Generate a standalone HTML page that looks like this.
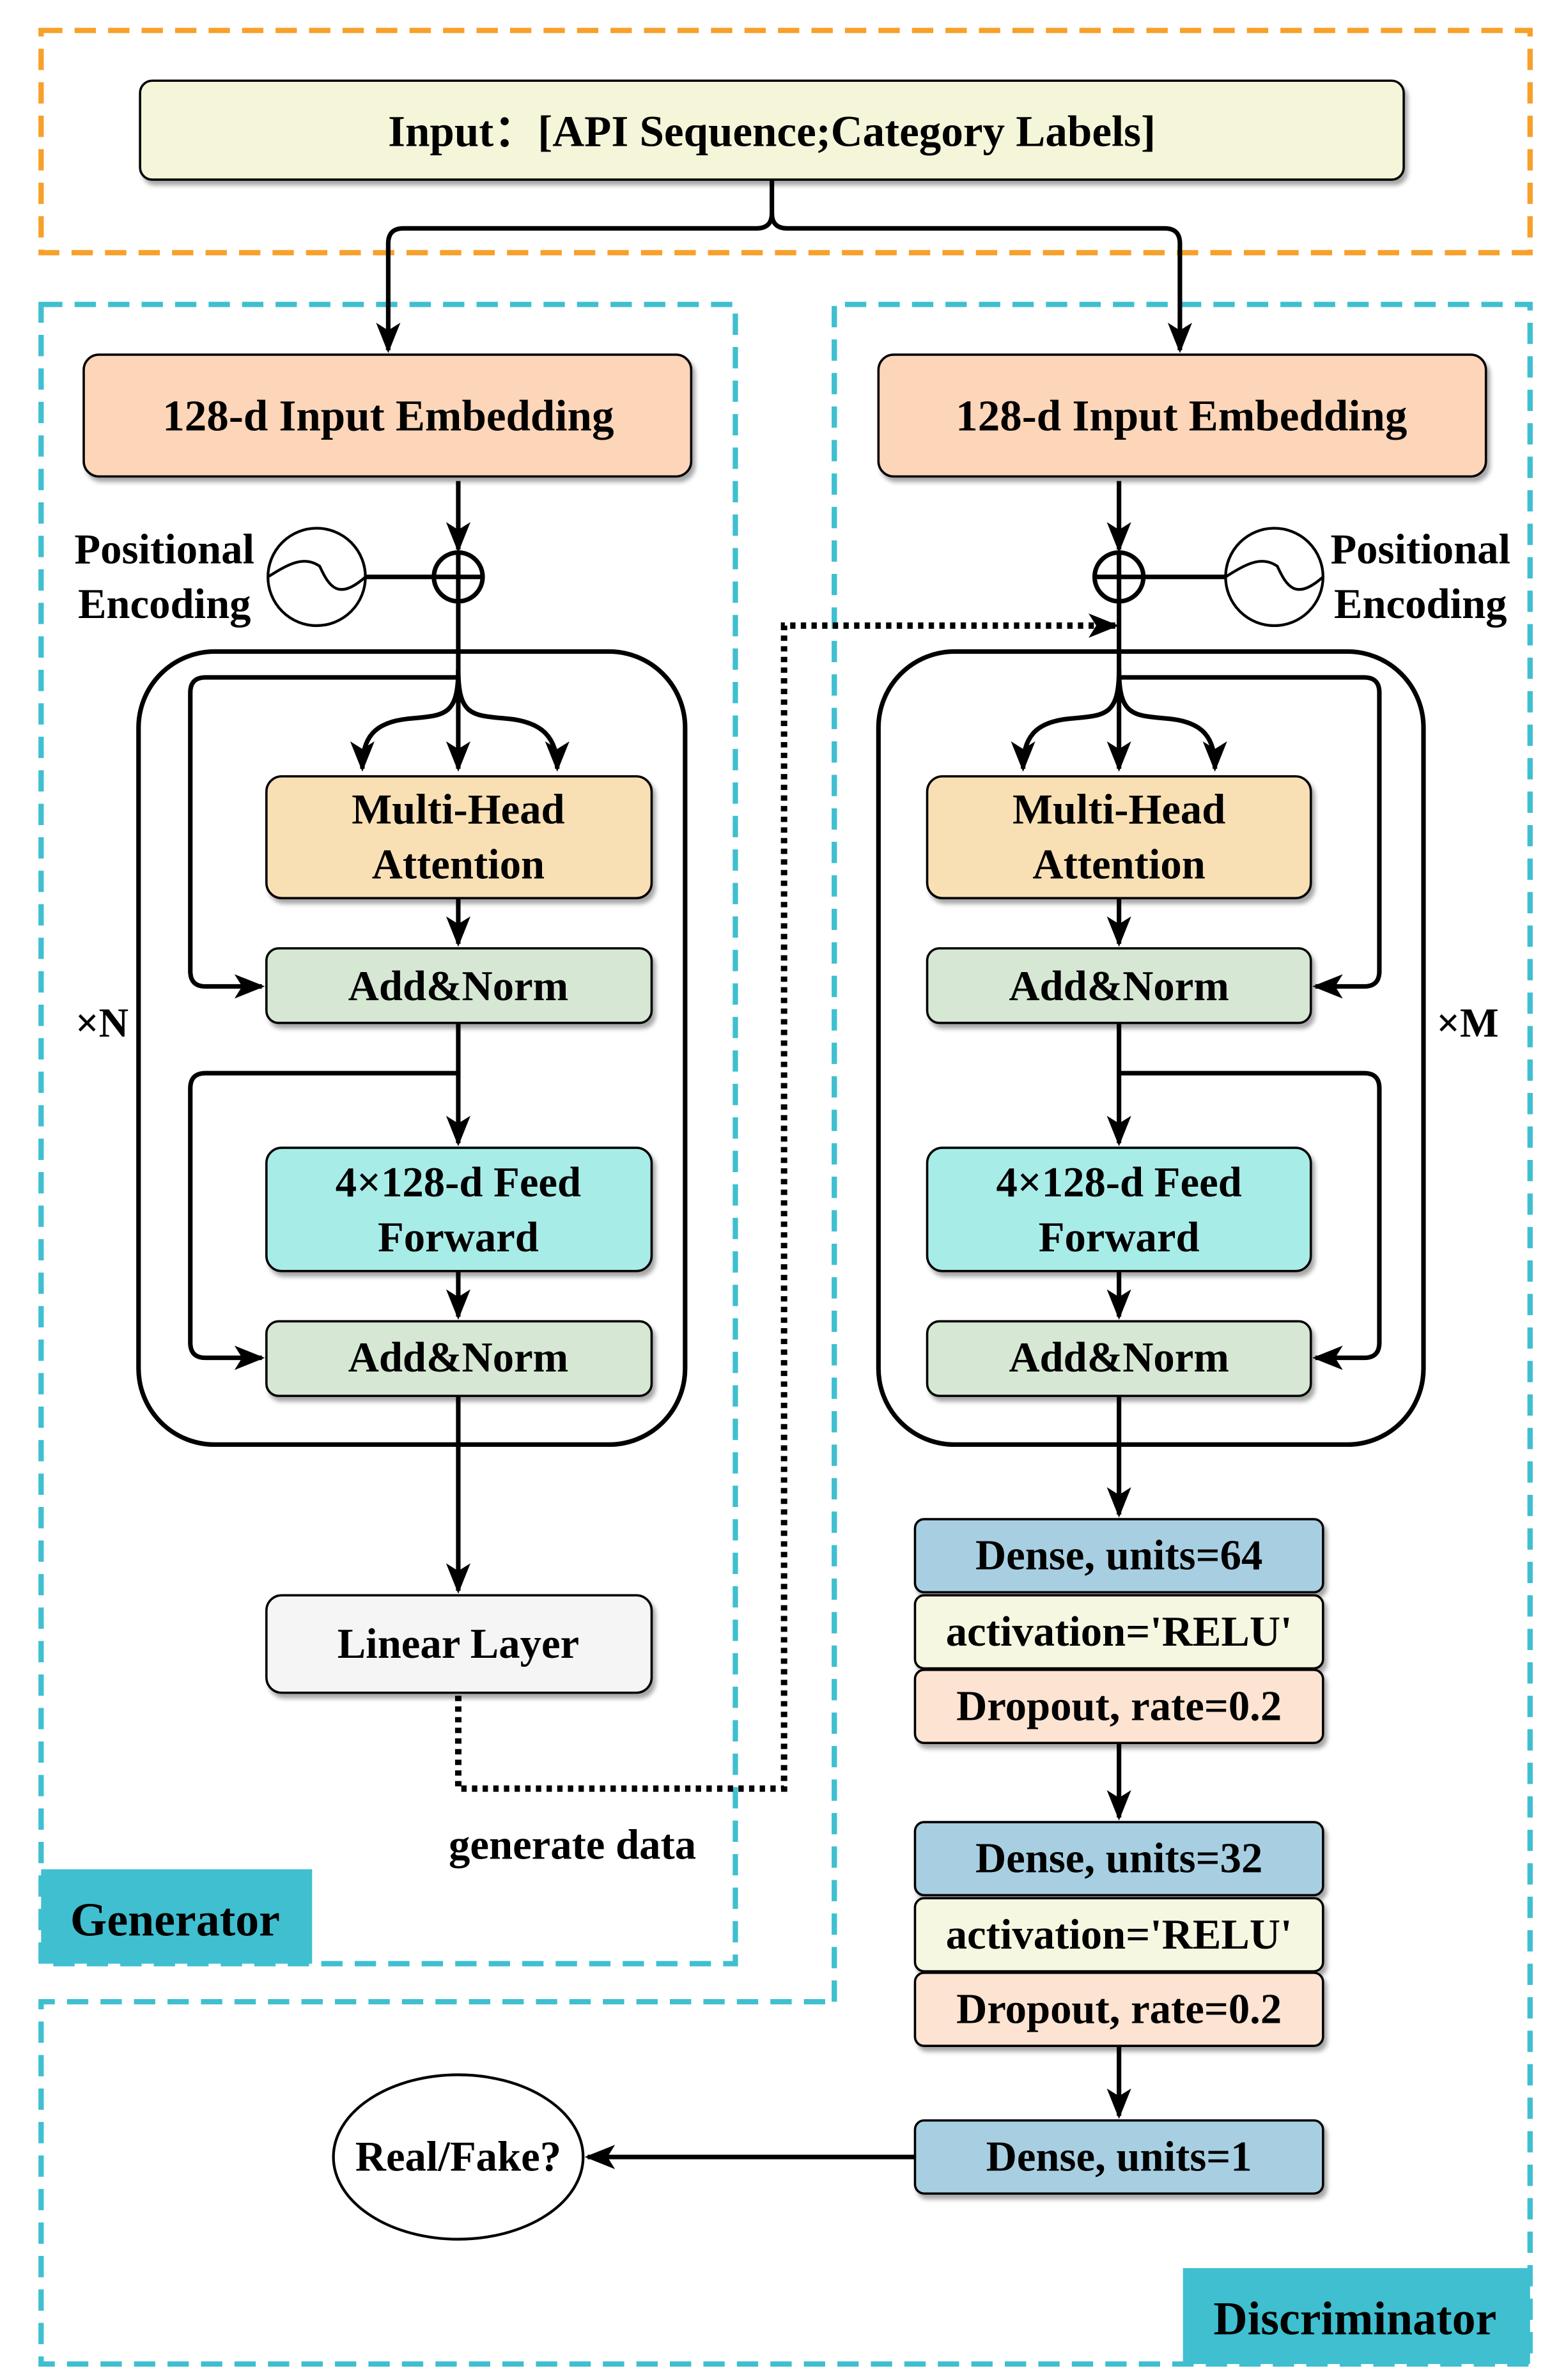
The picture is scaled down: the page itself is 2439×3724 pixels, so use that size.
<!DOCTYPE html>
<html><head><meta charset="utf-8"><style>
html,body{margin:0;padding:0;background:#fff;}
svg{display:block;}
text{font-family:"Liberation Serif",serif;font-weight:bold;fill:#000;text-anchor:middle;dominant-baseline:central;}
</style></head><body>
<svg width="2439" height="3724" viewBox="0 0 1024 1563.5" xmlns="http://www.w3.org/2000/svg">
<defs>
<marker id="b" viewBox="0 0 20 20" refX="18" refY="10" markerWidth="20" markerHeight="20" markerUnits="userSpaceOnUse" orient="auto">
<path d="M0,2 L20,10 L0,18 L5,10 Z" fill="#000"/></marker>
<filter id="s" x="-5%" y="-5%" width="115%" height="130%"><feDropShadow dx="2" dy="3" stdDeviation="1.5" flood-color="#000" flood-opacity="0.35"/></filter>
</defs>
<g fill="none" stroke-width="3.5" stroke-dasharray="14 8">
<rect x="27" y="20" width="978" height="146" stroke="#f7a02a"/>
<rect x="27" y="200" width="456" height="1090" stroke="#3fbfd0"/>
<path d="M548,1315 L548,200 L1005,200 L1005,1553 L27,1553 L27,1315 Z" stroke="#3fbfd0"/>
</g>
<rect x="27" y="1228" width="178" height="62" fill="#3fbfd0"/>
<text x="115" y="1261" font-size="31">Generator</text>
<rect x="777" y="1490" width="228" height="63" fill="#3fbfd0"/>
<text x="890" y="1523" font-size="31">Discriminator</text>

<g stroke="#000" stroke-width="1.5" filter="url(#s)">
<rect x="92" y="53" width="830" height="65" rx="8" fill="#f4f5d9"/>
<rect x="55" y="233" width="399" height="80" rx="10" fill="#fdd5b8"/>
<rect x="577" y="233" width="399" height="80" rx="10" fill="#fdd5b8"/>
<rect x="175" y="510" width="253" height="80" rx="10" fill="#f9e0b4"/>
<rect x="175" y="623" width="253" height="49" rx="8" fill="#d6e8d4"/>
<rect x="175" y="754" width="253" height="81" rx="10" fill="#a8ece8"/>
<rect x="175" y="868" width="253" height="49" rx="8" fill="#d6e8d4"/>
<rect x="175" y="1048" width="253" height="64" rx="10" fill="#f5f5f5"/>
<rect x="609" y="510" width="252" height="80" rx="10" fill="#f9e0b4"/>
<rect x="609" y="623" width="252" height="49" rx="8" fill="#d6e8d4"/>
<rect x="609" y="754" width="252" height="81" rx="10" fill="#a8ece8"/>
<rect x="609" y="868" width="252" height="49" rx="8" fill="#d6e8d4"/>
<rect x="601" y="998" width="268" height="48" rx="6" fill="#a7cfe1"/>
<rect x="601" y="1048" width="268" height="48" rx="6" fill="#f6f7e1"/>
<rect x="601" y="1097" width="268" height="48" rx="6" fill="#fde3d1"/>
<rect x="601" y="1197" width="268" height="48" rx="6" fill="#a7cfe1"/>
<rect x="601" y="1247" width="268" height="48" rx="6" fill="#f6f7e1"/>
<rect x="601" y="1296" width="268" height="48" rx="6" fill="#fde3d1"/>
<rect x="601" y="1393" width="268" height="48" rx="6" fill="#a7cfe1"/>
</g>

<g fill="none" stroke="#000" stroke-width="3">
<rect x="91" y="428" width="359" height="521" rx="50"/>
<rect x="577" y="428" width="358" height="521" rx="50"/>
<path d="M507,118 L507,140 Q507,150 497,150 L265,150 Q255,150 255,160 L255,230" marker-end="url(#b)"/>
<path d="M507,140 Q507,150 517,150 L765,150 Q775,150 775,160 L775,230" marker-end="url(#b)"/>
<path d="M301,316 L301,361" marker-end="url(#b)"/>
<circle cx="301" cy="379" r="16"/>
<path d="M285,379 L317,379 M301,363 L301,395"/>
<circle cx="208" cy="379" r="32" stroke-width="1.8"/>
<path d="M176,379 C190,370 200,365 210,372 C216,385 222,395 240,379" stroke-width="1.8"/>
<path d="M240,379 L285,379"/>
<path d="M301,395 L301,505" marker-end="url(#b)"/>
<path d="M301,440 C301,470 292,470 270,472 C245,474 238,485 238,505" marker-end="url(#b)"/>
<path d="M301,440 C301,470 310,470 332,472 C357,474 366,485 366,505" marker-end="url(#b)"/>
<path d="M300,445 L135,445 Q125,445 125,455 L125,638 Q125,648 135,648 L172,648" marker-end="url(#b)"/>
<path d="M301,590 L301,620" marker-end="url(#b)"/>
<path d="M301,672 L301,751" marker-end="url(#b)"/>
<path d="M301,705 L135,705 Q125,705 125,715 L125,882 Q125,892 135,892 L172,892" marker-end="url(#b)"/>
<path d="M301,835 L301,865" marker-end="url(#b)"/>
<path d="M301,917 L301,1045" marker-end="url(#b)"/>
<path d="M301,1114 L301,1175 L515,1175 L515,411 L733,411" stroke-dasharray="3.5 3.5" stroke-width="4.2" marker-end="url(#b)"/>
<path d="M735,316 L735,361" marker-end="url(#b)"/>
<circle cx="735" cy="379" r="16"/>
<path d="M719,379 L751,379 M735,363 L735,395"/>
<circle cx="837" cy="379" r="32" stroke-width="1.8"/>
<path d="M805,379 C819,370 829,365 839,372 C845,385 851,395 869,379" stroke-width="1.8"/>
<path d="M751,379 L805,379"/>
<path d="M735,395 L735,505" marker-end="url(#b)"/>
<path d="M735,440 C735,470 726,470 704,472 C679,474 672,485 672,505" marker-end="url(#b)"/>
<path d="M735,440 C735,470 744,470 766,472 C791,474 798,485 798,505" marker-end="url(#b)"/>
<path d="M736,445 L896,445 Q906,445 906,455 L906,638 Q906,648 896,648 L864,648" marker-end="url(#b)"/>
<path d="M735,590 L735,620" marker-end="url(#b)"/>
<path d="M735,672 L735,751" marker-end="url(#b)"/>
<path d="M735,705 L896,705 Q906,705 906,715 L906,882 Q906,892 896,892 L864,892" marker-end="url(#b)"/>
<path d="M735,835 L735,865" marker-end="url(#b)"/>
<path d="M735,917 L735,995" marker-end="url(#b)"/>
<path d="M735,1145 L735,1194" marker-end="url(#b)"/>
<path d="M735,1344 L735,1390" marker-end="url(#b)"/>
<path d="M601,1417 L386,1417" marker-end="url(#b)"/>
<ellipse cx="301" cy="1417" rx="82" ry="54" stroke-width="1.8"/>
</g>

<text x="507" y="86" font-size="29">Input：[API Sequence;Category Labels]</text>
<text x="255" y="273" font-size="29">128-d Input Embedding</text>
<text x="776" y="273" font-size="29">128-d Input Embedding</text>
<text x="108" y="361" font-size="28">Positional</text>
<text x="108" y="397" font-size="28">Encoding</text>
<text x="933" y="361" font-size="28">Positional</text>
<text x="933" y="397" font-size="28">Encoding</text>
<text x="301" y="532" font-size="28">Multi-Head</text>
<text x="301" y="568" font-size="28">Attention</text>
<text x="301" y="648" font-size="28">Add&amp;Norm</text>
<text x="301" y="777" font-size="28">4×128-d Feed</text>
<text x="301" y="813" font-size="28">Forward</text>
<text x="301" y="892" font-size="28">Add&amp;Norm</text>
<text x="301" y="1080" font-size="28">Linear Layer</text>
<text x="735" y="532" font-size="28">Multi-Head</text>
<text x="735" y="568" font-size="28">Attention</text>
<text x="735" y="648" font-size="28">Add&amp;Norm</text>
<text x="735" y="777" font-size="28">4×128-d Feed</text>
<text x="735" y="813" font-size="28">Forward</text>
<text x="735" y="892" font-size="28">Add&amp;Norm</text>
<text x="67" y="672" font-size="27">×N</text>
<text x="964" y="672" font-size="27">×M</text>
<text x="376" y="1212" font-size="28">generate data</text>
<text x="735" y="1022" font-size="28">Dense, units=64</text>
<text x="735" y="1072" font-size="28">activation='RELU'</text>
<text x="735" y="1121" font-size="28">Dropout, rate=0.2</text>
<text x="735" y="1221" font-size="28">Dense, units=32</text>
<text x="735" y="1271" font-size="28">activation='RELU'</text>
<text x="735" y="1320" font-size="28">Dropout, rate=0.2</text>
<text x="735" y="1417" font-size="28">Dense, units=1</text>
<text x="301" y="1417" font-size="28">Real/Fake?</text>
</svg>
</body></html>
